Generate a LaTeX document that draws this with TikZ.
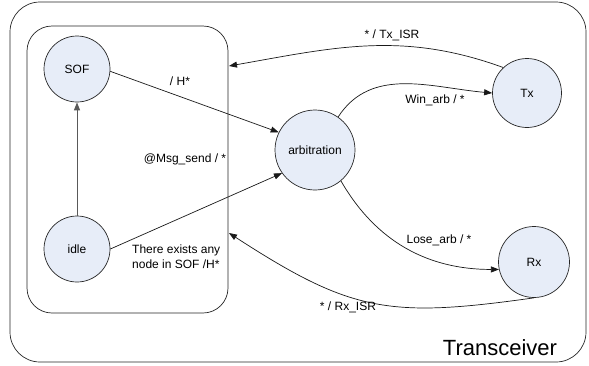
\documentclass[tikz,border=0pt]{standalone}
\usepackage{fontspec}
\setmainfont{Liberation Sans}
\usetikzlibrary{arrows.meta}
\definecolor{statefill}{RGB}{231,237,248}
\begin{document}
\begin{tikzpicture}[x=1pt,y=-1pt,
  state/.style={circle, draw=black!85, fill=statefill, line width=0.7pt, inner sep=0pt, font=\fontsize{12}{14}\selectfont},
  lbl/.style={font=\fontsize{12}{15}\selectfont, inner sep=0pt},
  trans/.style={draw=black!90, line width=0.7pt, -{Triangle[length=8pt,width=6pt]}},
  box/.style={draw=black!85, line width=0.7pt, inner sep=0pt}]
\useasboundingbox (0,0) rectangle (589,365);
\node[box, rounded corners=30pt, minimum width=576pt, minimum height=360pt] (outer) at (298,182) {};
\node[box, rounded corners=25pt, minimum width=201pt, minimum height=287pt] (inner) at (127.5,169.5) {};
\node[state, minimum size=66pt] (sof) at (77,69) {SOF};
\node[state, minimum size=66pt] (idle) at (77,249) {idle};
\node[state, minimum size=80pt] (arb) at (315,150) {arbitration};
\node[state, minimum size=69pt] (tx) at (527,93) {Tx};
\node[state, minimum size=71pt] (rx) at (534,262) {Rx};
\coordinate (txin) at (229,66);
\coordinate (rxin) at (229,233);
\draw[trans] (sof.-4) -- (arb.154);
\draw[trans] (idle.east) -- (arb.215);
\draw[trans, draw=black!65, line width=1pt] (idle.north) -- (sof.south);
\draw[trans] (arb.55) to[out=57, in=175] (tx.west);
\draw[trans] (arb.-50) to[out=-60, in=180] (rx.192);
\draw[trans] (tx.133) to[out=160, in=10] (txin);
\draw[trans] (rx.south) to[out=188, in=-33, looseness=1.2] (rxin);
\node[lbl] (l1) at (180,81) {/ H*};
\node[lbl] (l2) at (185,159) {@Msg\_send / *};
\node[lbl, anchor=west, align=left] (l3) at (132,257) {There exists any\\node in SOF /H*};
\node[lbl] (l4) at (392,35) {* / Tx\_ISR};
\node[lbl] (l5) at (435,100) {Win\_arb / *};
\node[lbl] (l6) at (439,240) {Lose\_arb / *};
\node[lbl] (l7) at (348,307) {* / Rx\_ISR};
\node[font=\fontsize{22}{26}\selectfont, inner sep=0pt] (title) at (500,348) {Transceiver};
\end{tikzpicture}
\end{document}
